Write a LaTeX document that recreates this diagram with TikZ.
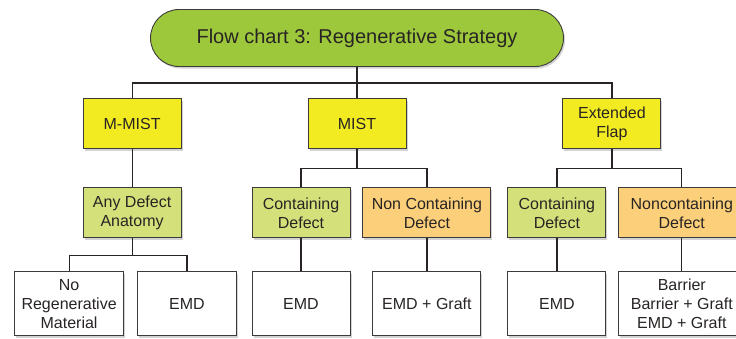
\documentclass[tikz,border=0pt]{standalone}
\usepackage{fontspec}
\setmainfont{Liberation Sans}
\usetikzlibrary{positioning}
\usetikzlibrary{shadows}
\usetikzlibrary{shapes.misc}

\definecolor{titlegreen}{RGB}{157,200,60}
\definecolor{methodyellow}{RGB}{242,235,34}
\definecolor{containgreen}{RGB}{212,225,122}
\definecolor{noncontorange}{RGB}{252,208,122}
\definecolor{inkgray}{RGB}{40,36,36}

\tikzset{
  box/.style={draw=inkgray!90, line width=0.9pt, align=center, text=inkgray,
    font=\fontsize{16}{19}\selectfont, inner sep=2pt,
    drop shadow={shadow xshift=1.5pt, shadow yshift=-2pt, opacity=0.35}},
  method/.style={box, fill=methodyellow, minimum width=98pt, minimum height=50pt},
  contain/.style={box, fill=containgreen, minimum height=50pt},
  noncontain/.style={box, fill=noncontorange, minimum height=50pt},
  therapy/.style={box, fill=white, minimum height=64pt},
  link/.style={draw=inkgray, line width=1.2pt}
}

\begin{document}
\begin{tikzpicture}
    \useasboundingbox (0,0) rectangle (736pt,-338pt);

    % title
    \node[box, shape=rounded rectangle, fill=titlegreen, minimum width=417pt,
      minimum height=57pt, font=\fontsize{20}{24}\selectfont] (title) at (357pt,-38pt)
      {Flow chart 3: Regenerative Strategy};

    % approaches
    \node[method, below=31.5pt of title] (mist) {MIST};
    \node[method, left=126pt of mist] (mmist) {M-MIST};
    \node[method, right=156pt of mist] (eflap) {Extended\\Flap};

    % defect type
    \node[contain, minimum width=98pt, below=38pt of mmist] (anydef) {Any Defect\\Anatomy};
    \node[contain, minimum width=98pt, below=38pt of mist, xshift=-56pt] (contmist) {Containing\\Defect};
    \node[noncontain, minimum width=128pt, right=12pt of contmist] (noncontmist) {Non Containing\\Defect};
    \node[contain, minimum width=98pt, below=38pt of eflap, xshift=-55pt] (contflap) {Containing\\Defect};
    \node[noncontain, minimum width=126pt, right=12pt of contflap] (noncontflap) {Noncontaining\\Defect};

    % materials
    \node[therapy, minimum width=109pt, below=33pt of anydef, xshift=-63pt] (noregen) {No\\Regenerative\\Material};
    \node[therapy, minimum width=99pt, right=13pt of noregen] (emdany) {EMD};
    \node[therapy, minimum width=98pt, below=33pt of contmist] (emdmist) {EMD};
    \node[therapy, minimum width=108pt, below=33pt of noncontmist] (graftmist) {EMD + Graft};
    \node[therapy, minimum width=98pt, below=33pt of contflap] (emdflap) {EMD};
    \node[therapy, minimum width=126pt, below=33pt of noncontflap] (barrier) {Barrier\\Barrier + Graft\\EMD + Graft};

    % connectors
    \draw[link] (mmist.north) -- ++(0,15.5pt) coordinate (bustop) -| (eflap.north);
    \draw[link] (title.south) -- (title.south |- bustop);
    \draw[link] (mist.north) -- (mist.north |- bustop);

    \draw[link] (mmist) -- (anydef);
    \draw[link] (contmist.north) -- ++(0,19pt) coordinate (busmist) -| (noncontmist.north);
    \draw[link] (mist.south) -- (mist.south |- busmist);
    \draw[link] (contflap.north) -- ++(0,19pt) coordinate (busflap) -| (noncontflap.north);
    \draw[link] (eflap.south) -- (eflap.south |- busflap);

    \draw[link] (noregen.north) -- ++(0,16pt) coordinate (busany) -| (emdany.north);
    \draw[link] (anydef.south) -- (anydef.south |- busany);
    \draw[link] (contmist) -- (emdmist);
    \draw[link] (noncontmist.south) -- (noncontmist.south |- graftmist.north);
    \draw[link] (contflap) -- (emdflap);
    \draw[link] (noncontflap) -- (barrier);
  \end{tikzpicture}
\end{document}
